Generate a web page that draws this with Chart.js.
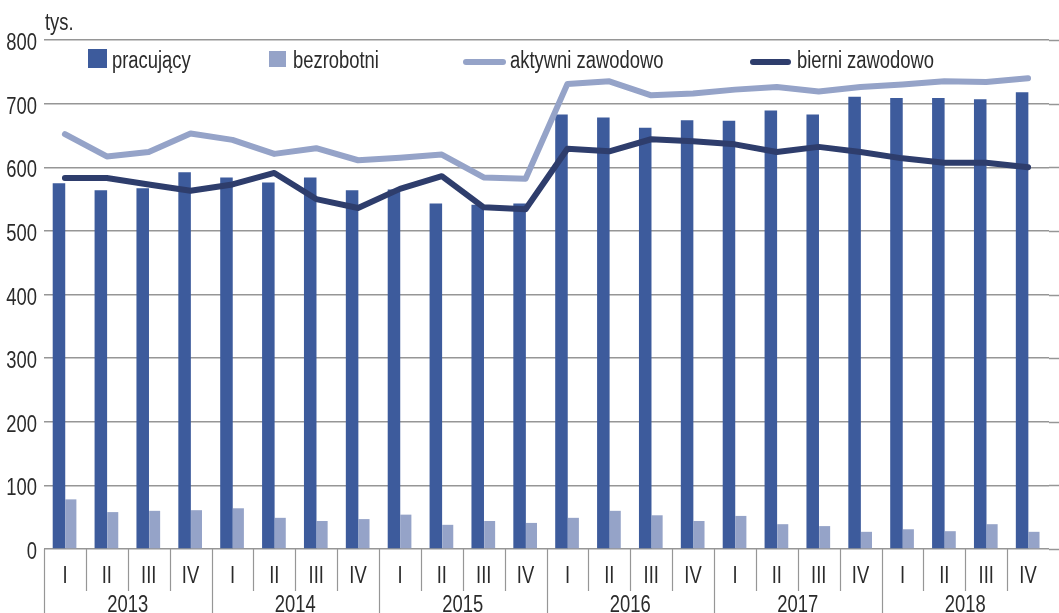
<!DOCTYPE html>
<html>
<head>
  <meta charset="utf-8">
  <title>Ludność według aktywności ekonomicznej</title>
  <script src="https://cdn.jsdelivr.net/npm/chart.js"></script>
  <style>
    html, body { margin: 0; padding: 0; background: #fff; }
    #wrap { width: 1059px; height: 613px; position: relative; }
  </style>
</head>
<body>
<div id="wrap"><canvas id="graphCanvas"></canvas></div>

<script>
// quarters and years on the x axis
let quarters = ['I', 'II', 'III', 'IV', 'I', 'II', 'III', 'IV', 'I', 'II', 'III', 'IV',
                'I', 'II', 'III', 'IV', 'I', 'II', 'III', 'IV', 'I', 'II', 'III', 'IV'];
let years = ['2013', '2014', '2015', '2016', '2017', '2018'];

// values in thousands
let pracujacy = [575, 564, 567, 592, 584, 576, 584, 564, 565, 543, 541, 543,
                 683, 678, 662, 674, 673, 689, 683, 711, 709, 709, 707, 718];
let bezrobotni = [78, 58, 60, 61, 64, 49, 44, 47, 54, 38, 44, 41,
                  49, 60, 53, 44, 52, 39, 36, 27, 31, 28, 39, 27];
let aktywni = [652, 617, 624, 653, 643, 621, 630, 611, 615, 620, 584, 582,
               731, 735, 713, 716, 722, 726, 719, 726, 730, 735, 734, 740];
let bierni = [583, 583, 573, 563, 573, 591, 550, 536, 566, 586, 537, 534,
              629, 625, 644, 641, 636, 624, 632, 624, 614, 607, 607, 600];

let yTicks = [0, 100, 200, 300, 400, 500, 600, 700, 800];

// the original uses a condensed face, so text is squeezed sideways
let font = "23px 'Liberation Sans', Arial, sans-serif";
let squeeze = 0.8;
let darkBlue = '#3d5b9c';
let lightBlue = '#95a3c8';
let navy = '#2e3d6c';
let textColor = '#2b2b2b';
let gridColor = '#969696';

function narrowText(ctx, text, x, y, align) {
  ctx.save();
  ctx.translate(x, y);
  ctx.scale(squeeze, 1);
  ctx.textAlign = align;
  ctx.textBaseline = 'alphabetic';
  ctx.fillText(text, 0, 0);
  ctx.restore();
}

// legend, tick labels, the "tys." label, the two-level x axis and gridline tails
let extras = {
  id: 'extras',
  afterDraw(chart) {
    let ctx = chart.ctx;
    let x = chart.scales.x;
    let y = chart.scales.y;
    let area = chart.chartArea;
    let w = (x.right - x.left) / quarters.length;
    ctx.save();

    // gridlines run on to the right edge
    ctx.strokeStyle = gridColor;
    ctx.lineWidth = 1.5;
    y.ticks.forEach(function (t) {
      let py = Math.round(y.getPixelForValue(t.value)) + 0.5;
      ctx.beginPath();
      ctx.moveTo(area.right, py);
      ctx.lineTo(chart.width, py);
      ctx.stroke();
    });

    // separators under the axis
    ctx.lineWidth = 1.2;
    for (let i = 0; i < quarters.length; i++) {
      let px = Math.round(x.left + i * w) + 0.5;
      ctx.beginPath();
      ctx.moveTo(px, area.bottom);
      ctx.lineTo(px, i % 4 === 0 ? chart.height : area.bottom + 42);
      ctx.stroke();
    }

    ctx.fillStyle = textColor;
    ctx.font = font;

    // y tick labels
    y.ticks.forEach(function (t) {
      narrowText(ctx, String(t.value), 37, y.getPixelForValue(t.value) + 10, 'right');
    });

    // quarter and year labels
    quarters.forEach(function (q, i) {
      narrowText(ctx, q, x.getPixelForTick(i), area.bottom + 34, 'center');
    });
    years.forEach(function (yr, k) {
      narrowText(ctx, yr, x.left + (4 * k + 2) * w, area.bottom + 63, 'center');
    });

    narrowText(ctx, 'tys.', 45, 30, 'left');

    // legend
    let ds = chart.data.datasets;
    let items = [
      {i: 0, kind: 'box', x: 88, top: 49, w: 19, h: 19, tx: 112},
      {i: 1, kind: 'box', x: 269, top: 51, w: 17, h: 16, tx: 293},
      {i: 2, kind: 'line', x: 466, w: 37, tx: 510},
      {i: 3, kind: 'line', x: 753, w: 35, tx: 797}
    ];
    items.forEach(function (it) {
      let d = ds[it.i];
      if (it.kind === 'box') {
        ctx.fillStyle = d.backgroundColor;
        ctx.fillRect(it.x, it.top, it.w, it.h);
      } else {
        ctx.strokeStyle = d.borderColor;
        ctx.lineWidth = 6;
        ctx.lineCap = 'round';
        ctx.beginPath();
        ctx.moveTo(it.x, 62);
        ctx.lineTo(it.x + it.w, 62);
        ctx.stroke();
      }
      ctx.fillStyle = textColor;
      narrowText(ctx, d.label, it.tx, 68, 'left');
    });
    ctx.restore();
  }
};

let options = {
  type: 'bar',
  data: {
    labels: quarters,
    datasets: [
      {
        label: 'pracujący',
        data: pracujacy,
        backgroundColor: darkBlue,
        categoryPercentage: 0.57,
        barPercentage: 1.05,
        order: 2
      },
      {
        label: 'bezrobotni',
        data: bezrobotni,
        backgroundColor: lightBlue,
        categoryPercentage: 0.57,
        barPercentage: 0.92,
        order: 2
      },
      {
        type: 'line',
        label: 'aktywni zawodowo',
        data: aktywni,
        borderColor: lightBlue,
        backgroundColor: lightBlue,
        borderWidth: 6,
        pointRadius: 0,
        tension: 0,
        borderJoinStyle: 'round',
        borderCapStyle: 'round',
        order: 1
      },
      {
        type: 'line',
        label: 'bierni zawodowo',
        data: bierni,
        borderColor: navy,
        backgroundColor: navy,
        borderWidth: 6,
        pointRadius: 0,
        tension: 0,
        borderJoinStyle: 'round',
        borderCapStyle: 'round',
        order: 1
      }
    ]
  },
  options: {
    responsive: true,
    maintainAspectRatio: false,
    animation: false,
    layout: { padding: { top: 40, right: 10, left: 0, bottom: 0 } },
    plugins: {
      legend: { display: false },
      tooltip: { enabled: false }
    },
    scales: {
      x: {
        offset: true,
        grid: { display: false, drawTicks: false },
        border: { display: false },
        ticks: { display: false, autoSkip: false },
        afterFit: function (scale) { scale.height = 64; }
      },
      y: {
        min: 0,
        max: 800,
        afterBuildTicks: function (scale) {
          scale.ticks = yTicks.map(function (v) { return {value: v}; });
        },
        grid: { color: gridColor, lineWidth: 1.5, drawTicks: false },
        border: { display: false },
        ticks: { display: false },
        afterFit: function (scale) { scale.width = 44; }
      }
    }
  },
  plugins: [extras]
};

let chart = new Chart(document.getElementById('graphCanvas'), options);
</script>
</body>
</html>
